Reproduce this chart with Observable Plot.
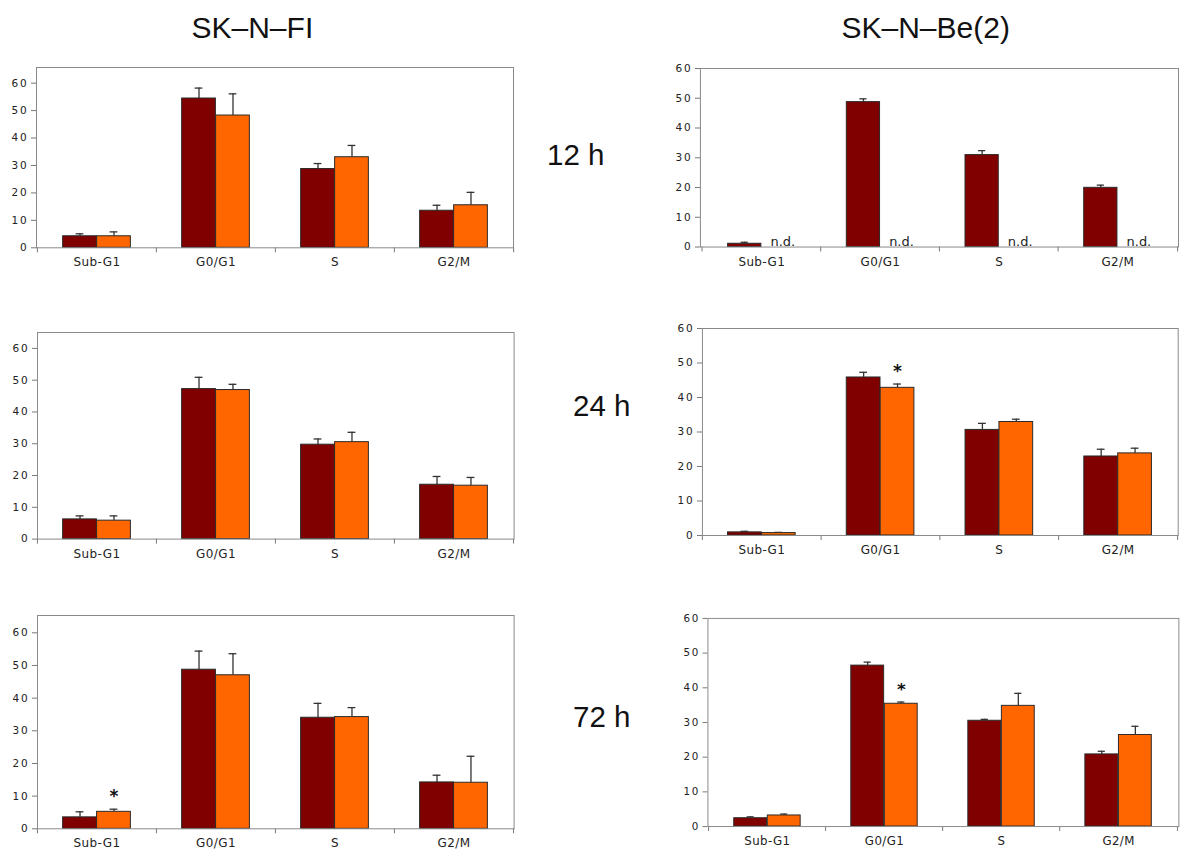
<!DOCTYPE html>
<html><head><meta charset="utf-8">
<script src="https://cdn.jsdelivr.net/npm/d3@7"></script>
<script src="https://cdn.jsdelivr.net/npm/@observablehq/plot@0.6"></script>
<style>
html,body{margin:0;padding:0;background:#fff;overflow:hidden;}
#root{position:relative;width:1182px;height:851px;overflow:hidden;background:#fff;}
.lbl{position:absolute;font-family:"Liberation Sans",Arial,sans-serif;color:#111;white-space:nowrap;line-height:1;}
.panel{position:absolute;}
.panel svg{overflow:visible;display:block;}
g[aria-label="y-axis tick label"] text{letter-spacing:1.8px;}
g[aria-label="x-axis tick label"] text{letter-spacing:0.4px;}
</style></head><body><div id="root"></div>
<script>
// ---------- data ----------
const categories = ["Sub-G1", "G0/G1", "S", "G2/M"];
const yTicks = [0, 10, 20, 30, 40, 50, 60];

// SK-N-FI
const fi12Control    = [4.2, 54.4, 28.7, 13.5];
const fi12ControlErr = [0.9, 3.8, 2.0, 2.0];
const fi12Treated    = [4.2, 48.2, 33.0, 15.5];
const fi12TreatedErr = [1.6, 7.9, 4.3, 4.7];
const fi12Sig = [];

const fi24Control    = [6.2, 47.2, 29.7, 17.1];
const fi24ControlErr = [1.1, 3.7, 1.8, 2.6];
const fi24Treated    = [5.8, 46.9, 30.5, 16.8];
const fi24TreatedErr = [1.5, 1.8, 3.1, 2.6];
const fi24Sig = [];

const fi72Control    = [3.5, 48.7, 34.0, 14.2];
const fi72ControlErr = [1.7, 5.7, 4.4, 2.2];
const fi72Treated    = [5.2, 47.0, 34.2, 14.1];
const fi72TreatedErr = [0.8, 6.6, 2.9, 8.1];
const fi72Sig = ["Sub-G1"];

// SK-N-Be(2)
const be12Control    = [1.1, 48.7, 30.9, 19.9];
const be12ControlErr = [0.5, 1.1, 1.5, 0.9];
const be12Treated    = null; // n.d.
const be12TreatedErr = null;
const be12Sig = [];

const be24Control    = [0.9, 45.8, 30.6, 22.9];
const be24ControlErr = [0.3, 1.5, 1.9, 2.1];
const be24Treated    = [0.7, 42.8, 32.9, 23.8];
const be24TreatedErr = [0.2, 1.1, 0.8, 1.5];
const be24Sig = ["G0/G1"];

const be72Control    = [2.4, 46.4, 30.5, 20.8];
const be72ControlErr = [0.4, 1.0, 0.4, 0.9];
const be72Treated    = [3.2, 35.4, 34.8, 26.4];
const be72TreatedErr = [0.4, 0.5, 3.6, 2.5];
const be72Sig = ["G0/G1"];

const yMaxFI = [65.7, 65.0, 65.3];
const yMaxBe = [60, 60, 60];
const notDetected = "n.d.";
const cellLines = ["SK–N–FI", "SK–N–Be(2)"];
const timeLabels = ["12 h", "24 h", "72 h"];

// ---------- layout (frame edges in page px) ----------
const frames = [
  {L: 36,    T: 67,    R: 513,    B: 247.3},
  {L: 700,   T: 68.3,  R: 1179.3, B: 247.3},
  {L: 36.7,  T: 331.7, R: 513.3,  B: 538.3},
  {L: 702.3, T: 328.3, R: 1179,   B: 535.7},
  {L: 36.7,  T: 615,   R: 513.3,  B: 828.3},
  {L: 707.7, T: 617.7, R: 1186.5, B: 829.3}
];

const maroon = "#800000", orange = "#ff6600";
const root = document.getElementById("root");

function panel(fr, yMax, ctrl, ctrlErr, trt, trtErr, sig) {
  const ml = 34, mr = 4, mt = 4, mb = 32;
  const w = fr.R - fr.L, h = fr.B - fr.T;
  const bw = w / 4;
  const f = 0.215;
  const off = (0.5 - (f + 0.5) / 2) * bw;
  const rows = [];
  categories.forEach((c, i) => {
    rows.push({cat: c, s: "control", v: ctrl[i], e: ctrlErr[i], sig: false});
    if (trt) rows.push({cat: c, s: "treated", v: trt[i], e: trtErr[i], sig: sig.includes(c)});
  });
  const C = rows.filter(r => r.s === "control");
  const Tr = rows.filter(r => r.s === "treated");
  const errStroke = "#333";
  const marks = [
    Plot.barY(C, {x: "cat", y: "v", fill: maroon, stroke: "#2a2a2a", strokeWidth: 1, insetLeft: f * bw, insetRight: 0.5 * bw}),
    Plot.ruleX(C, {x: "cat", y1: "v", y2: r => r.v + r.e, dx: -off, stroke: errStroke, strokeWidth: 1.3}),
    Plot.tickY(C, {x: "cat", y: r => r.v + r.e, insetLeft: bw / 2 - off - 4, insetRight: bw / 2 + off - 4, stroke: errStroke, strokeWidth: 1.3})
  ];
  if (trt) {
    marks.push(
      Plot.barY(Tr, {x: "cat", y: "v", fill: orange, stroke: "#2a2a2a", strokeWidth: 1, insetLeft: 0.5 * bw, insetRight: f * bw}),
      Plot.ruleX(Tr, {x: "cat", y1: "v", y2: r => r.v + r.e, dx: off, stroke: errStroke, strokeWidth: 1.3}),
      Plot.tickY(Tr, {x: "cat", y: r => r.v + r.e, insetLeft: bw / 2 + off - 4, insetRight: bw / 2 - off - 4, stroke: errStroke, strokeWidth: 1.3}),
      Plot.text(Tr.filter(r => r.sig), {x: "cat", y: r => r.v + r.e, text: () => "*", dx: off, dy: -7, lineAnchor: "bottom", fontSize: 17, fontWeight: "bold", fill: "#111"})
    );
  } else {
    marks.push(Plot.text(categories, {x: c => c, y: () => 0, text: () => notDetected, dx: off + 4, dy: -1.5, lineAnchor: "bottom", fontSize: 13, fill: "#222"}));
  }
  marks.push(
    Plot.axisY({ticks: yTicks, tickSize: 5, tickPadding: 3, fontSize: 10.5, stroke: "#777", fill: "#222", label: null}),
    Plot.axisX({tickSize: 0, tickPadding: 10, fontSize: 12, fill: "#222", label: null}),
    Plot.axisX({tickSize: 5, tickFormat: () => "", dx: -bw / 2, stroke: "#777", label: null}),
    Plot.axisX({ticks: [categories[categories.length - 1]], tickSize: 5, tickFormat: () => "", dx: bw / 2, stroke: "#777", label: null}),
    Plot.frame({stroke: "#8a8a8a", strokeWidth: 1})
  );
  const svg = Plot.plot({
    width: w + ml + mr, height: h + mt + mb,
    marginLeft: ml, marginRight: mr, marginTop: mt, marginBottom: mb,
    x: {type: "band", domain: categories, padding: 0, label: null},
    y: {domain: [0, yMax], label: null},
    style: {fontFamily: "'DejaVu Sans', sans-serif", background: "transparent", color: "#222", overflow: "visible"},
    marks
  });
  const div = document.createElement("div");
  div.className = "panel";
  div.style.left = (fr.L - ml) + "px";
  div.style.top = (fr.T - mt) + "px";
  div.appendChild(svg);
  root.appendChild(div);
}

panel(frames[0], yMaxFI[0], fi12Control, fi12ControlErr, fi12Treated, fi12TreatedErr, fi12Sig);
panel(frames[1], yMaxBe[0], be12Control, be12ControlErr, be12Treated, be12TreatedErr, be12Sig);
panel(frames[2], yMaxFI[1], fi24Control, fi24ControlErr, fi24Treated, fi24TreatedErr, fi24Sig);
panel(frames[3], yMaxBe[1], be24Control, be24ControlErr, be24Treated, be24TreatedErr, be24Sig);
panel(frames[4], yMaxFI[2], fi72Control, fi72ControlErr, fi72Treated, fi72TreatedErr, fi72Sig);
panel(frames[5], yMaxBe[2], be72Control, be72ControlErr, be72Treated, be72TreatedErr, be72Sig);

function label(text, left, top, size) {
  const d = document.createElement("div");
  d.className = "lbl";
  d.textContent = text;
  d.style.left = left + "px";
  d.style.top = top + "px";
  d.style.fontSize = size + "px";
  root.appendChild(d);
}
label(cellLines[0], 191.5, 13, 30);
label(cellLines[1], 841.5, 13, 30);
label(timeLabels[0], 547, 139.5, 29.5);
label(timeLabels[1], 573, 391, 29.5);
label(timeLabels[2], 573, 702, 29.5);
</script>
</body></html>
